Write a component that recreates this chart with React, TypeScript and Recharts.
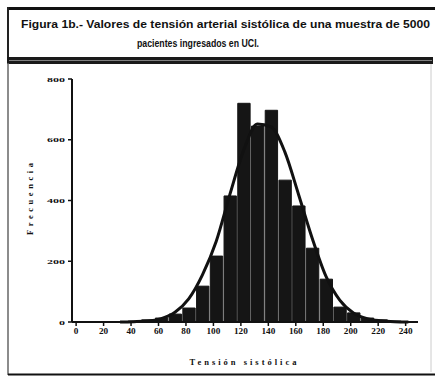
import React from 'react';
import { ComposedChart, Bar, Line, XAxis, YAxis } from 'recharts';

// Histogram bins (centre of each 10-unit bin) and counts
const binCenters = [42, 52, 62, 72, 82, 92, 102, 112, 122, 132, 142, 152, 162, 172, 182, 192, 202, 212, 222, 232];
const binCounts = [3, 7, 13, 26, 46, 118, 217, 415, 720, 645, 697, 467, 382, 243, 141, 49, 30, 13, 7, 3];

// Fitted normal curve
const curveX = [32, 42, 52, 62, 72, 82, 92, 102, 112, 122, 132, 142, 152, 162, 172, 182, 192, 202, 212, 222, 232, 242];
const curveY = [0, 1, 3, 11, 32, 76, 155, 265, 420, 565, 652, 642, 560, 420, 275, 150, 72, 30, 11, 4, 1, 0];

const xTicks = [0, 20, 40, 60, 80, 100, 120, 140, 160, 180, 200, 220, 240];
const yTicks = [0, 200, 400, 600, 800];

const titleLine1 = 'Figura 1b.- Valores de tensión arterial sistólica de una muestra de 5000';
const titleLine2 = 'pacientes ingresados en UCI.';
const xLabel = 'Tensión sistólica';
const yLabel = 'Frecuencia';

const barData = binCenters.map((x, i) => ({ x, freq: binCounts[i] }));
const curveData = curveX.map((x, i) => ({ x, curve: curveY[i] }));

const serif = '"Liberation Serif", "DejaVu Serif", serif';
const sans = '"Liberation Sans", Arial, sans-serif';

const XTick = (props: any) => {
  const { x, y, payload } = props;
  const s = String(payload.value);
  return (
    <text x={x} y={y} dy={6} textAnchor="middle" fontSize={8} fontWeight="bold" fontFamily={serif} fill="#111"
      textLength={s.length * 4.6} lengthAdjust="spacingAndGlyphs">
      {s}
    </text>
  );
};

const YTick = (props: any) => {
  const { x, y, payload } = props;
  const s = String(payload.value);
  return (
    <text x={x} y={y} dy={2.5} textAnchor="end" fontSize={7} fontWeight="bold" fontFamily={serif} fill="#111"
      textLength={s.length * 6} lengthAdjust="spacingAndGlyphs">
      {s}
    </text>
  );
};

export default function App() {
  return (
    <div style={{ position: 'fixed', left: 0, top: 0, width: 435, height: 376, background: '#fff', overflow: 'hidden' }}>
      <svg width={435} height={376} style={{ position: 'absolute', left: 0, top: 0 }}>
        {/* title box */}
        <rect x={7} y={7} width={428} height={3} fill="#111" />
        <rect x={7} y={7} width={2} height={56} fill="#222" />
        <text x={21} y={28} fontSize={10} fontWeight="bold" fontFamily={sans} fill="#111"
          textLength={409} lengthAdjust="spacingAndGlyphs">{titleLine1}</text>
        <text x={137} y={47} fontSize={10} fontWeight="bold" fontFamily={sans} fill="#111"
          textLength={122} lengthAdjust="spacingAndGlyphs">{titleLine2}</text>
        <rect x={7} y={57} width={426} height={7} fill="#1a1a1a" />
        <line x1={9} x2={432} y1={60.5} y2={60.5} stroke="#808080" strokeWidth={1.2} />
        {/* frame */}
        <line x1={8} x2={8} y1={63} y2={375} stroke="#666" strokeWidth={1.5} />
        <line x1={8} x2={435} y1={374.5} y2={374.5} stroke="#111" strokeWidth={2} />
        <line x1={431} x2={431} y1={64} y2={372} stroke="#ccc" strokeWidth={1} />
        {/* axis titles */}
        <text x={243} y={365} textAnchor="middle" fontSize={8.5} fontWeight="bold" fontFamily={serif} fill="#111"
          textLength={107} lengthAdjust="spacing">{xLabel}</text>
        <text x={0} y={0} transform="translate(33,199) rotate(-90)" textAnchor="middle" fontSize={8.5} fontWeight="bold"
          fontFamily={serif} fill="#111" textLength={72} lengthAdjust="spacing">{yLabel}</text>
      </svg>
      <div style={{ position: 'absolute', left: 0, top: 0 }}>
        <ComposedChart width={435} height={376} data={barData} margin={{ top: 79, right: 17, bottom: 24, left: 12 }}
          barCategoryGap={0} barGap={0}>
          <XAxis
            type="number"
            dataKey="x"
            domain={[-3, 249]}
            ticks={xTicks}
            allowDataOverflow
            height={30}
            interval={0}
            axisLine={{ stroke: '#111', strokeWidth: 2 }}
            tickLine={{ stroke: '#111', strokeWidth: 1.5 }}
            tickSize={4}
            tickMargin={2}
            tick={<XTick />}
          />
          <YAxis
            type="number"
            domain={[0, 800]}
            ticks={yTicks}
            width={60}
            interval={0}
            axisLine={{ stroke: '#111', strokeWidth: 2 }}
            tickLine={{ stroke: '#111', strokeWidth: 1.5 }}
            tickSize={4}
            tickMargin={3}
            tick={<YTick />}
          />
          <Bar dataKey="freq" fill="#151515" stroke="#151515" strokeWidth={1} barSize={14} isAnimationActive={false} />
          <Line data={curveData} dataKey="curve" type="monotone" stroke="#111" strokeWidth={3} dot={false}
            isAnimationActive={false} />
        </ComposedChart>
      </div>
    </div>
  );
}
